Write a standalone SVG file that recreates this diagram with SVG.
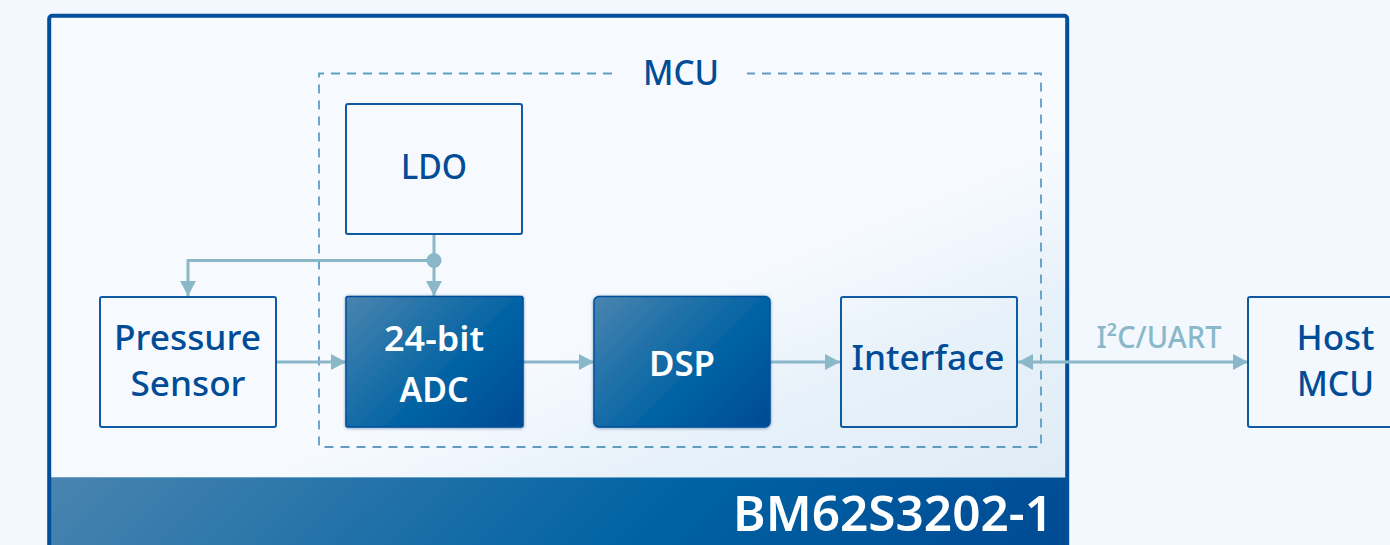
<svg xmlns="http://www.w3.org/2000/svg" width="1390" height="545" viewBox="0 0 1390 545">
  <style>
    text { font-family: "Noto Sans", "Open Sans", "Liberation Sans", sans-serif; text-anchor: middle; }
    .box { fill: none; stroke: #0f5aa3; stroke-width: 2; }
    .solid { stroke: #00509c; stroke-width: 1.5; filter: url(#shade); }
    .dark { fill: #004c97; font-size: 35px; font-weight: 500; }
    .light { fill: #ffffff; font-size: 35px; font-weight: 600; }
    .wire { fill: none; stroke: #8ab8c9; stroke-width: 3; }
    .arrow { marker-end: url(#tip); }
  </style>
  <defs>
    <linearGradient id="panelGrad" gradientUnits="userSpaceOnUse" x1="675" y1="305" x2="793" y2="591">
      <stop offset="0" stop-color="#f6faff"/>
      <stop offset="0.45" stop-color="#e7f1f9"/>
      <stop offset="1" stop-color="#e0ecf5"/>
    </linearGradient>
    <linearGradient id="blockStops">
      <stop offset="0" stop-color="#4a84af"/>
      <stop offset="0.6" stop-color="#0062a3"/>
      <stop offset="1" stop-color="#004a94"/>
    </linearGradient>
    <linearGradient id="adcGrad" href="#blockStops" gradientUnits="userSpaceOnUse" x1="357.800" y1="285" x2="511.200" y2="438.500"/>
    <linearGradient id="dspGrad" href="#blockStops" gradientUnits="userSpaceOnUse" x1="605.300" y1="285" x2="758.700" y2="438.500"/>
    <linearGradient id="footGrad" href="#blockStops" gradientUnits="userSpaceOnUse" x1="286" y1="239" x2="830" y2="783"/>
    <filter id="shade" x="-5%" y="-5%" width="110%" height="110%">
      <feDropShadow dx="0" dy="0.5" stdDeviation="1.5" flood-color="#003a70" flood-opacity="0.55"/>
    </filter>
    <marker id="tip" markerUnits="userSpaceOnUse" markerWidth="16" markerHeight="18" refX="15" refY="8" orient="auto-start-reverse">
      <path d="M0 0L15 8L0 16Z" fill="#8ab8c9"/>
    </marker>
  </defs>
  <rect width="1390" height="545" fill="#f3f7fe"/>

  <g id="module">
    <rect x="49.200" y="15.800" width="1018" height="560" rx="3" fill="url(#panelGrad)"/>
    <rect x="49.200" y="477" width="1018" height="99" fill="url(#footGrad)"/>
    <line x1="51" y1="477.500" x2="1066" y2="477.500" stroke="#6ea3c4" stroke-width="1"/>
    <rect x="49.200" y="15.800" width="1018" height="560" rx="3" fill="none" stroke="#004f9c" stroke-width="4"/>
    <text x="893" y="531" fill="#ffffff" font-size="48" font-weight="600" textLength="320" lengthAdjust="spacingAndGlyphs">BM62S3202-1</text>
  </g>

  <g id="mcu">
    <path d="M612 73.500H319V447H1041V73.500H747" fill="none" stroke="#5f9cc2" stroke-width="1.800" stroke-dasharray="9 7"/>
    <text x="681" y="85" fill="#004c97" font-size="35" font-weight="500" textLength="76" lengthAdjust="spacingAndGlyphs">MCU</text>
  </g>

  <g id="connectors">
    <path class="wire" d="M434 235V296" marker-end="url(#tip)"/>
    <path class="wire" d="M434 260.500H188V296" marker-end="url(#tip)"/>
    <circle cx="434" cy="260.500" r="7.500" fill="#8ab8c9"/>
    <path class="wire arrow" d="M277 362H346"/>
    <path class="wire arrow" d="M523 362H594"/>
    <path class="wire arrow" d="M770 362H840"/>
    <path class="wire arrow" d="M1018 362H1248" marker-start="url(#tip)"/>
    <text x="1159" y="348" fill="#8ab8c9" font-size="30" font-weight="500" textLength="125" lengthAdjust="spacingAndGlyphs">I²C/UART</text>
  </g>

  <g id="ldo">
    <rect class="box" x="346" y="104" width="176" height="130" rx="2"/>
    <text class="dark" x="434" y="179" textLength="66" lengthAdjust="spacingAndGlyphs">LDO</text>
  </g>
  <g id="pressure-sensor">
    <rect class="box" x="100" y="297" width="176" height="130" rx="2"/>
    <text class="dark" x="187.500" y="350" textLength="147" lengthAdjust="spacingAndGlyphs">Pressure</text>
    <text class="dark" x="188" y="396" textLength="115" lengthAdjust="spacingAndGlyphs">Sensor</text>
  </g>
  <g id="adc">
    <rect class="solid" x="346" y="296.500" width="177" height="130.500" rx="2" fill="url(#adcGrad)"/>
    <text class="light" x="434" y="351" textLength="100" lengthAdjust="spacingAndGlyphs">24-bit</text>
    <text class="light" x="434" y="402" textLength="69" lengthAdjust="spacingAndGlyphs">ADC</text>
  </g>
  <g id="dsp">
    <rect class="solid" x="594" y="296.500" width="176" height="130.500" rx="5" fill="url(#dspGrad)"/>
    <text class="light" x="682" y="376" textLength="66" lengthAdjust="spacingAndGlyphs">DSP</text>
  </g>
  <g id="interface">
    <rect class="box" x="841" y="297" width="176" height="130" rx="2"/>
    <text class="dark" x="928" y="370" textLength="153" lengthAdjust="spacingAndGlyphs">Interface</text>
  </g>
  <g id="host-mcu">
    <rect class="box" x="1248" y="297" width="176" height="130" rx="2"/>
    <text class="dark" x="1335.500" y="350" textLength="78" lengthAdjust="spacingAndGlyphs">Host</text>
    <text class="dark" x="1335.500" y="396" textLength="77" lengthAdjust="spacingAndGlyphs">MCU</text>
  </g>
</svg>
